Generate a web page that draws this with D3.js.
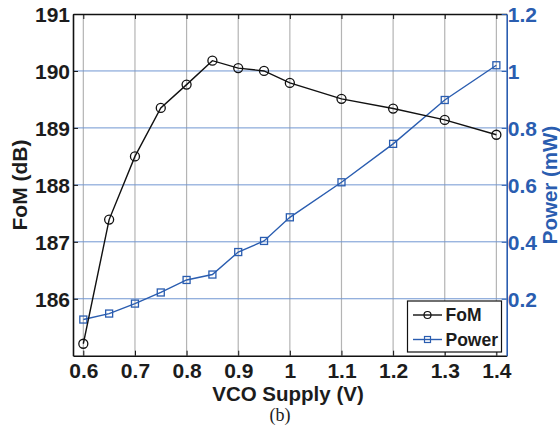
<!DOCTYPE html>
<html><head><meta charset="utf-8">
<script src="https://cdn.jsdelivr.net/npm/d3@7/dist/d3.min.js"></script>
<style>body{margin:0;background:#fff}svg{display:block}</style>
</head><body>
<script>
const supply = [0.6,0.65,0.7,0.75,0.8,0.85,0.9,0.95,1.0,1.1,1.2,1.3,1.4];
const fom = [185.21,187.39,188.5,189.35,189.76,190.18,190.05,190.0,189.79,189.51,189.34,189.14,188.88];
const power = [0.127,0.148,0.183,0.222,0.266,0.285,0.364,0.403,0.486,0.609,0.744,0.898,1.02];
const xTicks = [0.6,0.7,0.8,0.9,1.0,1.1,1.2,1.3,1.4];
const fomTicks = [186,187,188,189,190,191];
const powerTicks = [0.2,0.4,0.6,0.8,1.0,1.2];

const W=560,H=429;
const L=73,R=506.7,T=14,B=355.7;
const blue="#2a5db0";
const ink="#1c1c1c";
const font="'Liberation Sans', Arial, sans-serif";
const svg=d3.select("body").append("svg").attr("width",W).attr("height",H);
const x=d3.scaleLinear().domain([0.58,1.42]).range([L,R]);
const yL=d3.scaleLinear().domain([185,191]).range([B,T]);
const yR=d3.scaleLinear().domain([0,1.2]).range([B,T]);

// grid
const g=svg.append("g");
g.selectAll(".vg").data(xTicks).join("line").attr("x1",d=>x(d)).attr("x2",d=>x(d)).attr("y1",T).attr("y2",B)
 .attr("stroke","#b4b4b4").attr("stroke-width",1.2);
g.selectAll(".hg").data(powerTicks.filter(d=>d<1.2)).join("line").attr("x1",L).attr("x2",R).attr("y1",d=>yR(d)).attr("y2",d=>yR(d))
 .attr("stroke","#7196d2").attr("stroke-width",1);

// axes
const ax=svg.append("g");
const fmt1=d=>d===1?"1":d3.format(".1f")(d);
const axB=d3.axisBottom(x).tickValues(xTicks).tickSizeInner(-5).tickSizeOuter(0).tickPadding(7).tickFormat(fmt1);
const bg=ax.append("g").attr("transform",`translate(0,${B})`).call(axB);
const axT=d3.axisTop(x).tickValues(xTicks).tickSizeInner(-5).tickSizeOuter(0).tickFormat("");
const tg=ax.append("g").attr("transform",`translate(0,${T})`).call(axT);
const axL=d3.axisLeft(yL).tickValues(fomTicks).tickSizeInner(-5).tickSizeOuter(0).tickPadding(3).tickFormat(d3.format("d"));
const lg=ax.append("g").attr("transform",`translate(${L},0)`).call(axL);
const axR=d3.axisRight(yR).tickValues(powerTicks).tickSizeInner(-5).tickSizeOuter(0).tickPadding(1).tickFormat(fmt1);
const rg=ax.append("g").attr("transform",`translate(${R},0)`).call(axR);
[bg,tg,lg,rg].forEach(s=>s.selectAll("text").attr("font-family",font).attr("font-weight","bold").attr("font-size",21));
[bg,tg,lg].forEach(s=>{s.select(".domain").attr("stroke","#111").attr("stroke-width",1.6);s.selectAll(".tick line").attr("stroke","#111");s.selectAll("text").attr("fill",ink)});
rg.select(".domain").attr("stroke",blue).attr("stroke-width",1.6);
rg.selectAll(".tick line").attr("stroke",blue);
rg.selectAll("text").attr("fill",blue);
lg.selectAll("text").attr("dy","0.36em");
rg.selectAll("text").attr("dy","0.36em");

// lines
const fomLine=d3.line().x((d,i)=>x(supply[i])).y(d=>yL(d));
const powLine=d3.line().x((d,i)=>x(supply[i])).y(d=>yR(d));
svg.append("path").attr("d",powLine(power)).attr("fill","none").attr("stroke",blue).attr("stroke-width",1.4);
svg.selectAll(".sq").data(power).join("rect").attr("x",(d,i)=>x(supply[i])-3.5).attr("y",d=>yR(d)-3.5).attr("width",7).attr("height",7)
 .attr("fill","none").attr("stroke",blue).attr("stroke-width",1.3);
svg.append("path").attr("d",fomLine(fom)).attr("fill","none").attr("stroke","#111").attr("stroke-width",1.4);
svg.selectAll(".ci").data(fom).join("circle").attr("cx",(d,i)=>x(supply[i])).attr("cy",d=>yL(d)).attr("r",4.5)
 .attr("fill","none").attr("stroke","#111").attr("stroke-width",1.3);

// labels
svg.append("text").attr("x",288).attr("y",401).attr("text-anchor","middle").attr("font-family",font).attr("font-weight","bold").attr("font-size",20.5).attr("fill",ink).text("VCO Supply (V)");
svg.append("text").attr("transform",`translate(27,185) rotate(-90)`).attr("text-anchor","middle").attr("font-family",font).attr("font-weight","bold").attr("font-size",21).attr("fill",ink).text("FoM (dB)");
svg.append("text").attr("transform",`translate(557,185) rotate(-90)`).attr("text-anchor","middle").attr("font-family",font).attr("font-weight","bold").attr("font-size",20.5).attr("fill",blue).text("Power (mW)");
svg.append("text").attr("x",280).attr("y",421).attr("text-anchor","middle").attr("font-family","'Liberation Serif', 'Times New Roman', serif").attr("font-size",18).attr("fill",ink).text("(b)");

// legend
const leg=svg.append("g");
leg.append("rect").attr("x",407.5).attr("y",301).attr("width",94).attr("height",51).attr("fill","#fff").attr("stroke","#111").attr("stroke-width",1.2);
const items=[{name:"FoM",color:"#111",shape:"circle",y:315},{name:"Power",color:blue,shape:"square",y:339.5}];
items.forEach(it=>{
  leg.append("line").attr("x1",413).attr("x2",442).attr("y1",it.y).attr("y2",it.y).attr("stroke",it.color).attr("stroke-width",1.4);
  if(it.shape==="circle") leg.append("circle").attr("cx",427.5).attr("cy",it.y).attr("r",3.5).attr("fill","none").attr("stroke",it.color).attr("stroke-width",1.2);
  else leg.append("rect").attr("x",424.5).attr("y",it.y-3).attr("width",6).attr("height",6).attr("fill","none").attr("stroke",it.color).attr("stroke-width",1.2);
  leg.append("text").attr("x",445.5).attr("y",it.y+6).attr("font-family",font).attr("font-weight","bold").attr("font-size",17.5).attr("fill",ink).text(it.name);
});
</script>
</body></html>
